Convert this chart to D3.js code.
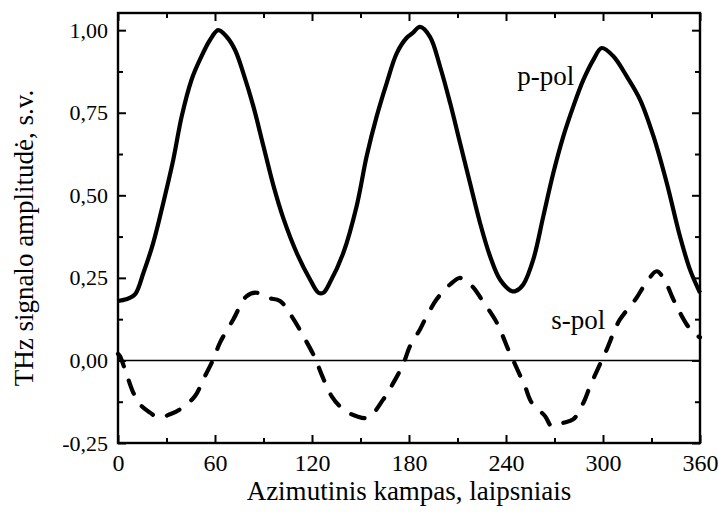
<!DOCTYPE html>
<html>
<head>
<meta charset="utf-8">
<script src="https://cdn.jsdelivr.net/npm/d3@7"></script>
<style>
  html, body { margin: 0; padding: 0; background: #fff; }
  svg text { font-family: "Liberation Serif", "Times New Roman", serif; fill: #000; }
</style>
</head>
<body>
<svg id="chart" width="719" height="520"></svg>
<script>
// Azimuthal dependence of THz signal amplitude (normalised), p- and s-polarisation
const pAngles = [0, 5, 10.5, 15.7, 21.8, 28, 34.2, 39.4, 45.5, 50.7, 57, 62, 67.2, 72.4, 77.5, 83.7, 89.9, 96.1, 102.3, 110.5, 118.8, 124, 127, 131, 139.4, 147.6, 153.8, 160, 166.2, 172.4, 178.6, 182, 186.8, 193, 199.2, 205.4, 211.5, 217.7, 223.9, 230.1, 236.3, 243.5, 246, 250.7, 256.9, 263.1, 269.3, 275.5, 281.7, 287.9, 294.1, 299.2, 306.4, 314.7, 322.9, 331.2, 339.4, 347.6, 353.8, 360];
const pValues = [0.18, 0.185, 0.20, 0.265, 0.356, 0.477, 0.608, 0.739, 0.85, 0.911, 0.971, 1.0, 0.98, 0.94, 0.87, 0.77, 0.65, 0.53, 0.43, 0.326, 0.245, 0.205, 0.205, 0.235, 0.326, 0.467, 0.618, 0.739, 0.84, 0.93, 0.977, 0.99, 1.01, 0.98, 0.89, 0.78, 0.66, 0.538, 0.417, 0.316, 0.245, 0.21, 0.21, 0.23, 0.306, 0.437, 0.568, 0.679, 0.77, 0.85, 0.911, 0.946, 0.921, 0.86, 0.79, 0.679, 0.538, 0.376, 0.275, 0.205];

const sAngles = [0, 1.2, 4.3, 9.5, 13.6, 19.8, 25, 32.2, 38.3, 47.6, 52.7, 58.9, 63.1, 71.3, 79.6, 85.8, 92, 100.2, 107.4, 114.6, 121.8, 125.9, 132.1, 139.3, 147.6, 154.8, 164.1, 170.3, 176.5, 180.6, 186.8, 189.9, 197.1, 205.4, 211.5, 214, 219, 224.9, 233.2, 236.3, 241.4, 245.6, 251.7, 255.9, 264.2, 268.3, 275.5, 281.7, 287.9, 292, 298.1, 302.3, 307.4, 310.5, 320.8, 326, 333.2, 337.3, 343.5, 346.6, 351.8, 357, 360];
const sValues = [0.02, 0.013, -0.027, -0.098, -0.133, -0.158, -0.173, -0.163, -0.148, -0.108, -0.058, 0.003, 0.054, 0.124, 0.195, 0.205, 0.19, 0.18, 0.134, 0.074, 0.008, -0.042, -0.108, -0.148, -0.169, -0.173, -0.118, -0.068, -0.01, 0.043, 0.094, 0.124, 0.185, 0.23, 0.25, 0.24, 0.225, 0.185, 0.124, 0.094, 0.033, -0.012, -0.078, -0.128, -0.169, -0.199, -0.189, -0.178, -0.128, -0.078, -0.012, 0.033, 0.094, 0.124, 0.19, 0.23, 0.27, 0.25, 0.185, 0.154, 0.109, 0.079, 0.07];

const xTicks = [0, 60, 120, 180, 240, 300, 360];
const xMinorTicks = [30, 90, 150, 210, 270, 330];
const yTicks = [-0.25, 0, 0.25, 0.5, 0.75, 1.0];
const yMinorTicks = [-0.125, 0.125, 0.375, 0.625, 0.875];

const xTitle = "Azimutinis kampas, laipsniais";
const yTitle = "THz signalo amplitudė, s.v.";
const seriesLabels = ["p-pol", "s-pol"];

const svg = d3.select("#chart");
const plotLeft = 118, plotRight = 700, plotTop = 13, plotBottom = 443;

const x = d3.scaleLinear().domain([0, 360]).range([plotLeft, plotRight]);
const y = d3.scaleLinear().domain([-0.25, 1.052]).range([plotBottom, plotTop]);

const fmt = v => d3.format(".2f")(v).replace(".", ",").replace("−", "-");

// zero reference line
svg.append("line")
  .attr("x1", x(0)).attr("x2", x(360))
  .attr("y1", y(0)).attr("y2", y(0))
  .attr("stroke", "#000").attr("stroke-width", 1.6);

// curves
const line = d3.line().x(d => x(d[0])).y(d => y(d[1])).curve(d3.curveCatmullRom.alpha(0.5));

svg.append("path")
  .datum(d3.zip(pAngles, pValues))
  .attr("d", line)
  .attr("fill", "none").attr("stroke", "#000")
  .attr("stroke-width", 4.2).attr("stroke-linejoin", "round");

svg.append("path")
  .datum(d3.zip(sAngles, sValues))
  .attr("d", line)
  .attr("fill", "none").attr("stroke", "#000")
  .attr("stroke-width", 4.2).attr("stroke-linecap", "round")
  .attr("stroke-dasharray", "14,15");

// axes: ticks point inward on all four sides
function styleAxis(g) {
  g.select(".domain").remove();
  g.selectAll(".tick line").attr("stroke", "#000").attr("stroke-width", 2);
}

const bottomAxis = svg.append("g").attr("transform", `translate(0,${plotBottom})`)
  .call(d3.axisBottom(x).tickValues(xTicks).tickSize(-8).tickPadding(11).tickFormat(d => d));
styleAxis(bottomAxis);
bottomAxis.selectAll("text").attr("font-size", 24);

svg.append("g").attr("transform", `translate(0,${plotBottom})`)
  .call(d3.axisBottom(x).tickValues(xMinorTicks).tickSize(-5).tickFormat(""))
  .call(styleAxis);

svg.append("g").attr("transform", `translate(0,${plotTop})`)
  .call(d3.axisTop(x).tickValues(xTicks).tickSize(-8).tickFormat(""))
  .call(styleAxis);
svg.append("g").attr("transform", `translate(0,${plotTop})`)
  .call(d3.axisTop(x).tickValues(xMinorTicks).tickSize(-5).tickFormat(""))
  .call(styleAxis);

const leftAxis = svg.append("g").attr("transform", `translate(${plotLeft},0)`)
  .call(d3.axisLeft(y).tickValues(yTicks).tickSize(-8).tickPadding(10).tickFormat(fmt));
styleAxis(leftAxis);
leftAxis.selectAll("text").attr("font-size", 22);

svg.append("g").attr("transform", `translate(${plotLeft},0)`)
  .call(d3.axisLeft(y).tickValues(yMinorTicks).tickSize(-5).tickFormat(""))
  .call(styleAxis);

svg.append("g").attr("transform", `translate(${plotRight},0)`)
  .call(d3.axisRight(y).tickValues(yTicks).tickSize(-8).tickFormat(""))
  .call(styleAxis);
svg.append("g").attr("transform", `translate(${plotRight},0)`)
  .call(d3.axisRight(y).tickValues(yMinorTicks).tickSize(-5).tickFormat(""))
  .call(styleAxis);

// frame
svg.append("rect")
  .attr("x", plotLeft).attr("y", plotTop)
  .attr("width", plotRight - plotLeft).attr("height", plotBottom - plotTop)
  .attr("fill", "none").attr("stroke", "#000").attr("stroke-width", 2.4);

// series labels
svg.append("text").attr("x", x(247)).attr("y", y(0.835))
  .attr("font-size", 27).text(seriesLabels[0]);
svg.append("text").attr("x", x(268)).attr("y", y(0.095))
  .attr("font-size", 27).text(seriesLabels[1]);

// axis titles
svg.append("text")
  .attr("x", (plotLeft + plotRight) / 2).attr("y", 500)
  .attr("text-anchor", "middle").attr("font-size", 27)
  .text(xTitle);

svg.append("text")
  .attr("transform", `translate(33,${(plotTop + plotBottom) / 2 + 10}) rotate(-90)`)
  .attr("text-anchor", "middle").attr("font-size", 27)
  .text(yTitle);
</script>
</body>
</html>
